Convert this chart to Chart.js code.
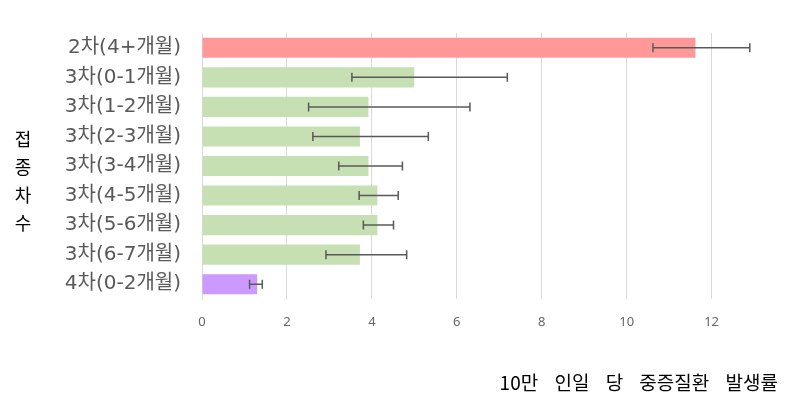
<!DOCTYPE html>
<html>
<head>
<meta charset="utf-8">
<script src="https://cdn.jsdelivr.net/npm/chart.js@4.4.1/dist/chart.umd.min.js"></script>
<style>
  html, body { margin: 0; padding: 0; background: #fff; }
  #wrap { position: relative; width: 788px; height: 399px; overflow: hidden; }
  #yTitle {
    position: absolute; left: 12px; top: 124px; width: 22px;
    font: 18px 'Noto Sans CJK KR', sans-serif; line-height: 28px;
    text-align: center; color: #000;
  }
  #xTitle {
    position: absolute; right: 10px; top: 368px;
    font: 19px 'Noto Sans CJK KR', sans-serif; word-spacing: 12px;
    color: #000; white-space: nowrap;
  }
</style>
</head>
<body>
<div id="wrap">
  <canvas id="incidenceChart" width="788" height="399"></canvas>
  <div id="yTitle">접<br>종<br>차<br>수</div>
  <div id="xTitle">10만 인일 당 중증질환 발생률</div>
</div>
<script>
const categories = ['2차(4+개월)', '3차(0-1개월)', '3차(1-2개월)', '3차(2-3개월)', '3차(3-4개월)',
                    '3차(4-5개월)', '3차(5-6개월)', '3차(6-7개월)', '4차(0-2개월)'];
const rates = [11.62, 5.0, 3.92, 3.72, 3.92, 4.13, 4.13, 3.72, 1.30];
const lowerCI = [10.62, 3.53, 2.51, 2.61, 3.22, 3.70, 3.80, 2.92, 1.12];
const upperCI = [12.90, 7.19, 6.31, 5.33, 4.72, 4.62, 4.51, 4.82, 1.42];
const xTicks = [0, 2, 4, 6, 8, 10, 12];

const barColors = categories.map(c => c.startsWith('2차') ? '#ff9999' : c.startsWith('4차') ? '#cc99ff' : '#c6e0b4');

// draws the confidence interval whiskers
const errorBars = {
    id: 'errorBars',
    afterDatasetsDraw(chart) {
        const ctx = chart.ctx;
        const xs = chart.scales.x;
        const meta = chart.getDatasetMeta(0);
        ctx.save();
        ctx.strokeStyle = '#595959';
        ctx.lineWidth = 1.5;
        meta.data.forEach((bar, i) => {
            const x1 = xs.getPixelForValue(lowerCI[i]);
            const x2 = xs.getPixelForValue(upperCI[i]);
            const y = bar.y;
            ctx.beginPath();
            ctx.moveTo(x1, y); ctx.lineTo(x2, y);
            ctx.moveTo(x1, y - 4.5); ctx.lineTo(x1, y + 4.5);
            ctx.moveTo(x2, y - 4.5); ctx.lineTo(x2, y + 4.5);
            ctx.stroke();
        });
        ctx.restore();
    }
};

new Chart(document.getElementById('incidenceChart'), {
    type: 'bar',
    data: {
        labels: categories,
        datasets: [{
            data: rates,
            backgroundColor: barColors,
            categoryPercentage: 1,
            barPercentage: 0.68
        }]
    },
    options: {
        indexAxis: 'y',
        responsive: false,
        animation: false,
        layout: { padding: { top: 33, left: 0, right: 0, bottom: 0 } },
        plugins: { legend: { display: false }, tooltip: { enabled: false } },
        scales: {
            x: {
                min: 0, max: 13.8,
                afterFit: s => { s.height = 100; },
                afterBuildTicks: s => { s.ticks = xTicks.map(v => ({ value: v })); },
                grid: { color: '#d9d9d9', drawTicks: false },
                border: { display: false },
                ticks: { padding: 15, color: '#666', font: { family: "'Noto Sans', sans-serif", size: 13 } }
            },
            y: {
                afterFit: s => { s.width = 202; },
                grid: { display: false, drawTicks: false },
                border: { color: '#d9d9d9', width: 1 },
                ticks: { padding: 21, color: '#595959', font: { family: "'DejaVu Sans', 'Noto Sans CJK KR', sans-serif", size: 20 } }
            }
        }
    },
    plugins: [errorBars]
});
</script>
</body>
</html>
